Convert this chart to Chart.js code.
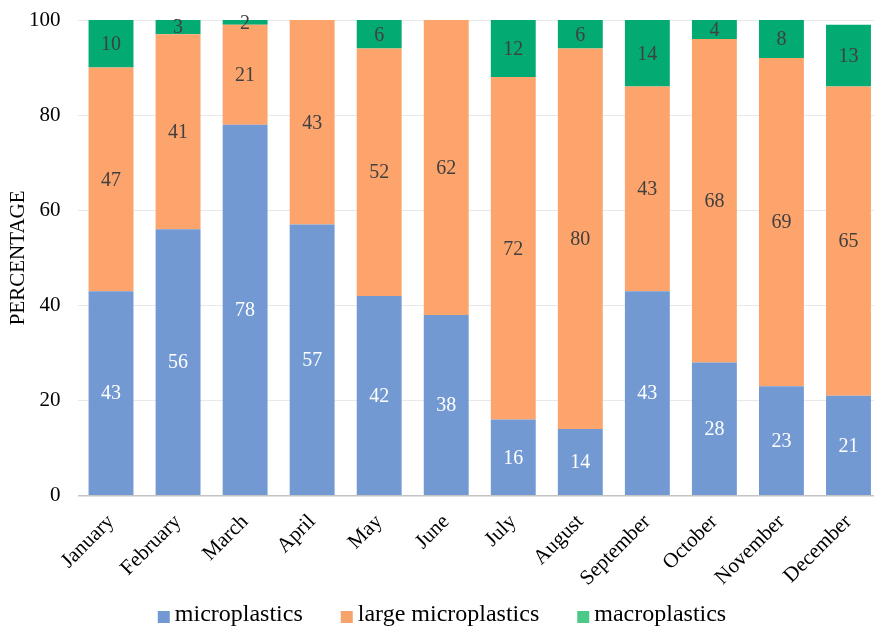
<!DOCTYPE html>
<html>
<head>
<meta charset="utf-8">
<script src="https://cdn.jsdelivr.net/npm/chart.js@4/dist/chart.umd.min.js"></script>
<style>
  html, body { margin: 0; padding: 0; background: #ffffff; overflow: hidden; }
  #wrap { width: 874px; height: 628px; overflow: hidden; }
  /* the plot area runs a few pixels past the right edge of the frame */
  #c { display: block; }
</style>
</head>
<body>
<div id="wrap"><canvas id="c" width="882" height="628"></canvas></div>
<script>
const months = ["January", "February", "March", "April", "May", "June",
  "July", "August", "September", "October", "November", "December"];
const microplastics = [43, 56, 78, 57, 42, 38, 16, 14, 43, 28, 23, 21];
const largeMicroplastics = [47, 41, 21, 43, 52, 62, 72, 80, 43, 68, 69, 65];
const macroplastics = [10, 3, 2, 0, 6, 0, 12, 6, 14, 4, 8, 13];
const yTicks = [0, 20, 40, 60, 80, 100];

const serif = "'Liberation Serif', 'Times New Roman', serif";
const barColors = ["#7399d3", "#fca46c", "#03aa72"];
const legendColors = ["#7399d3", "#f6a46c", "#4cc887"];
const labelColors = ["#ffffff", "#404040", "#404040"];
const frameWidth = 874;

// Writes each segment's value in the middle of its bar piece
const segmentLabels = {
  id: "segmentLabels",
  afterDatasetsDraw(chart) {
    const ctx = chart.ctx;
    const area = chart.chartArea;
    ctx.save();
    ctx.font = "20px " + serif;
    ctx.textAlign = "center";
    ctx.textBaseline = "middle";
    chart.data.datasets.forEach((ds, di) => {
      const meta = chart.getDatasetMeta(di);
      meta.data.forEach((bar, i) => {
        const v = ds.data[i];
        if (!v) return;
        const top = Math.max(bar.y, area.top);
        const bottom = Math.min(bar.base, area.bottom);
        ctx.fillStyle = labelColors[di];
        ctx.fillText(String(v), bar.x, (top + bottom) / 2 + 1);
      });
    });
    ctx.restore();
  }
};

// Legend row under the month labels: square swatch, then the series name
const bottomLegend = {
  id: "bottomLegend",
  afterDraw(chart) {
    const ctx = chart.ctx;
    const box = 12, gap = 5, spacing = 38;
    const cy = chart.height - 11;
    ctx.save();
    ctx.font = "24px " + serif;
    ctx.textBaseline = "middle";
    ctx.textAlign = "left";
    const items = chart.data.datasets.map((ds, i) => ({
      text: ds.label, color: legendColors[i], w: ctx.measureText(ds.label).width
    }));
    const total = items.reduce((s, it) => s + box + gap + it.w, 0) + spacing * (items.length - 1);
    let x = frameWidth / 2 + 5 - total / 2;
    items.forEach(it => {
      ctx.fillStyle = it.color;
      ctx.fillRect(x, cy - box / 2, box, box);
      ctx.fillStyle = "#000000";
      ctx.fillText(it.text, x + box + gap, cy - 2);
      x += box + gap + it.w + spacing;
    });
    ctx.restore();
  }
};

new Chart(document.getElementById("c"), {
  type: "bar",
  data: {
    labels: months,
    datasets: [
      { label: "microplastics", data: microplastics, backgroundColor: barColors[0] },
      { label: "large microplastics", data: largeMicroplastics, backgroundColor: barColors[1] },
      { label: "macroplastics", data: macroplastics, backgroundColor: barColors[2] }
    ]
  },
  options: {
    responsive: false,
    animation: false,
    layout: { padding: { left: 8, right: 0, top: 20, bottom: 23 } },
    datasets: { bar: { categoryPercentage: 1.0, barPercentage: 0.67, borderWidth: 0 } },
    scales: {
      x: {
        stacked: true,
        afterFit(scale) { scale.paddingLeft = 0; scale.paddingRight = 0; },
        grid: { display: false, drawTicks: false },
        border: { display: false },
        ticks: {
          font: { family: serif, size: 21 },
          color: "#000000",
          minRotation: 45,
          maxRotation: 45,
          padding: 14
        }
      },
      y: {
        stacked: true,
        min: 0,
        max: 100,
        z: 1,
        afterFit(scale) {
          scale.paddingTop = 0;
          scale.paddingBottom = 0;
          scale.width -= scale.options.ticks.padding;
        },
        afterBuildTicks(axis) { axis.ticks = yTicks.map(v => ({ value: v })); },
        grid: {
          color: ctx => ctx.tick && ctx.tick.value === 0 ? "#c4c4c4" : "rgba(0,0,0,0.09)",
          lineWidth: ctx => ctx.tick && ctx.tick.value === 0 ? 1.5 : 1,
          drawTicks: false
        },
        border: { display: false },
        ticks: {
          font: { family: serif, size: 21 },
          color: "#000000",
          padding: 17
        },
        title: {
          display: true,
          text: "PERCENTAGE",
          font: { family: serif, size: 21, lineHeight: 1.0 },
          color: "#000000",
          padding: { top: 0, bottom: 0 }
        }
      }
    },
    plugins: {
      tooltip: { enabled: false },
      legend: { display: false }
    }
  },
  plugins: [segmentLabels, bottomLegend]
});
</script>
</body>
</html>
